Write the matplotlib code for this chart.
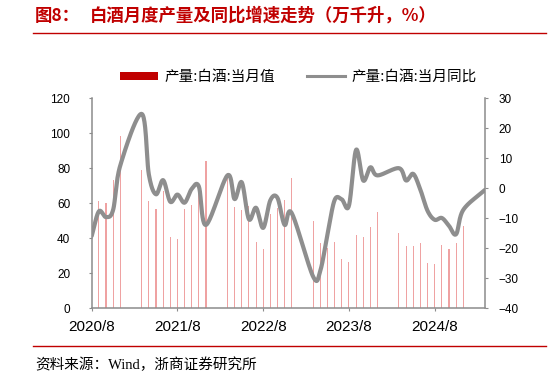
import numpy as np
import pandas as pd
import matplotlib
matplotlib.use("Agg")
import matplotlib.pyplot as plt
from matplotlib.patches import Patch
from matplotlib.lines import Line2D

plt.rcParams['font.family'] = ['Noto Sans CJK SC', 'DejaVu Sans']

# 产量:白酒:当月值 (万千升) - 1、2月无单月数据
bar_months = ["2020-09", "2020-10", "2020-11", "2020-12",
              "2021-03", "2021-04", "2021-05", "2021-06", "2021-07", "2021-08",
              "2021-09", "2021-10", "2021-11", "2021-12",
              "2022-03", "2022-04", "2022-05", "2022-06", "2022-07", "2022-08",
              "2022-09", "2022-10", "2022-11", "2022-12",
              "2023-03", "2023-04", "2023-05", "2023-06", "2023-07", "2023-08",
              "2023-09", "2023-10", "2023-11", "2023-12",
              "2024-03", "2024-04", "2024-05", "2024-06", "2024-07", "2024-08",
              "2024-09", "2024-10", "2024-11", "2024-12"]
output = [61.5, 59.9, 73.4, 98.3,
          79.1, 61.5, 56.7, 67.2, 40.8, 39.5,
          56.7, 59.2, 71.1, 83.9,
          77.2, 57.7, 56.1, 58.6, 37.9, 33.7,
          53.8, 57.3, 62.1, 74.3,
          49.6, 37.4, 34.7, 37.7, 28.3, 26.5,
          42.0, 40.9, 46.6, 54.8,
          43.3, 35.6, 35.6, 37.4, 26.1, 25.5,
          36.2, 33.9, 37.4, 47.1]

# 产量:白酒:当月同比 (%)
yoy_months = ["2020-08", "2020-09", "2020-10", "2020-11", "2020-12",
              "2021-03", "2021-04", "2021-05", "2021-06", "2021-07", "2021-08",
              "2021-09", "2021-10", "2021-11", "2021-12",
              "2022-03", "2022-04", "2022-05", "2022-06", "2022-07", "2022-08",
              "2022-09", "2022-10", "2022-11", "2022-12",
              "2023-03", "2023-04", "2023-05", "2023-06", "2023-07", "2023-08",
              "2023-09", "2023-10", "2023-11", "2023-12",
              "2024-03", "2024-04", "2024-05", "2024-06", "2024-07", "2024-08",
              "2024-09", "2024-10", "2024-11", "2024-12", "2025-03"]
yoy = [-15.9, -7.7, -9.6, -7.2, 7.6,
       24.8, 4.6, -2.0, 2.7, -4.5, -2.1,
       -4.8, -0.2, 0.6, -12.2,
       4.3, -3.6, 2.0, -10.3, -6.5, -13.2,
       -4.0, -3.2, -12.2, -8.3,
       -29.5, -27.4, -15.3, -3.9, -3.7, -5.8,
       12.8, 2.6, 7.0, 4.3,
       6.7, 2.6, 4.8, -0.5, -7.5, -10.5,
       -9.9, -12.5, -15.3, -7.2, -0.6]

tick_labels = ["2020/8", "2021/8", "2022/8", "2023/8", "2024/8"]

start = pd.Period("2020-08", freq="M")
def month_index(ms):
    return np.array([(pd.Period(m, freq="M") - start).n for m in ms], dtype=float)

bx = month_index(bar_months)
lx = month_index(yoy_months)


def smooth(xs, ys, n=24):
    # Catmull-Rom curve through the points (like Excel "smoothed line")
    pts = np.column_stack([xs, ys])
    p = np.vstack([2 * pts[0] - pts[1], pts, 2 * pts[-1] - pts[-2]])
    t = np.linspace(0, 1, n, endpoint=False)[:, None]
    segs = []
    for i in range(1, len(p) - 2):
        p0, p1, p2, p3 = p[i - 1], p[i], p[i + 1], p[i + 2]
        segs.append(0.5 * (2 * p1 + (p2 - p0) * t
                           + (2 * p0 - 5 * p1 + 4 * p2 - p3) * t ** 2
                           + (-p0 + 3 * p1 - 3 * p2 + p3) * t ** 3))
    segs.append(p[-2][None])
    s = np.vstack(segs)
    return s[:, 0], s[:, 1]


red = "#C00000"
gray = "#8E8E8E"
spine_c = "#8C8C8C"

fig = plt.figure(figsize=(5.48, 3.75), dpi=100)
ax = fig.add_axes([0.1673, 0.1779, 0.8845 - 0.1673, 0.7379 - 0.1779])
ax2 = ax.twinx()

ax.bar(bx, output, width=0.15, color="#EFA2A2", linewidth=0, antialiased=False)
sx, sy = smooth(lx, yoy)
ax2.plot(sx, sy, color=gray, lw=3, solid_capstyle="round")

ax.set_xlim(0, 55)
ax.set_ylim(0, 120)
ax.set_yticks(np.arange(0, 121, 20))
ax2.set_ylim(-40, 30)
ax2.set_yticks(np.arange(-40, 31, 10))
ax.set_xticks(np.arange(0, 49, 12))
ax.set_xticklabels(tick_labels)

for a in (ax, ax2):
    a.spines["top"].set_visible(False)
    for s in a.spines.values():
        s.set_color(spine_c)
        s.set_linewidth(1.1)
ax.spines["right"].set_visible(False)
ax2.spines["left"].set_visible(False)
ax2.spines["bottom"].set_visible(False)

ax.tick_params(axis="y", direction="out", length=2.5, width=0.8, color=spine_c,
               pad=13, labelsize=8.5)
ax.tick_params(axis="x", direction="out", length=2.5, width=0.8, color=spine_c,
               pad=6, labelsize=11)
ax2.tick_params(axis="y", direction="out", length=2.5, width=0.8, color=spine_c,
                pad=7.5, labelsize=8.5)
for lab in ax.get_xticklabels() + ax.get_yticklabels() + ax2.get_yticklabels():
    lab.set_fontfamily(["Liberation Sans", "DejaVu Sans"])

# legend
handles = [Patch(facecolor=red, edgecolor="none"),
           Line2D([0], [0], color=gray, lw=2.2)]
fig.legend(handles, ["产量:白酒:当月值", "产量:白酒:当月同比"], ncol=2,
           loc="center", bbox_to_anchor=(0.545, 0.795), frameon=False,
           fontsize=10.5, handlelength=2.6, handleheight=0.45,
           handletextpad=0.45, columnspacing=2.2)

# title and source
fig.text(35 / 548, 0.958, "图8：", color=red, fontsize=12.5, fontweight="bold",
         va="center", ha="left")
fig.text(90 / 548, 0.958, "白酒月度产量及同比增速走势（万千升，%）", color=red,
         fontsize=12.5, fontweight="bold", va="center", ha="left")
fig.add_artist(Line2D([33 / 548, 546 / 548], [0.911, 0.911], color=red, lw=1,
                      transform=fig.transFigure))
fig.add_artist(Line2D([33 / 548, 546 / 548], [0.0773, 0.0773], color=red, lw=1,
                      transform=fig.transFigure))
fig.text(35 / 548, 0.028, "资料来源：Wind，浙商证券研究所", color="black",
         fontsize=10.5, va="center", ha="left",
         family=["Liberation Serif", "Noto Sans CJK SC"])

fig.savefig("out.png", dpi=100, facecolor="white")
